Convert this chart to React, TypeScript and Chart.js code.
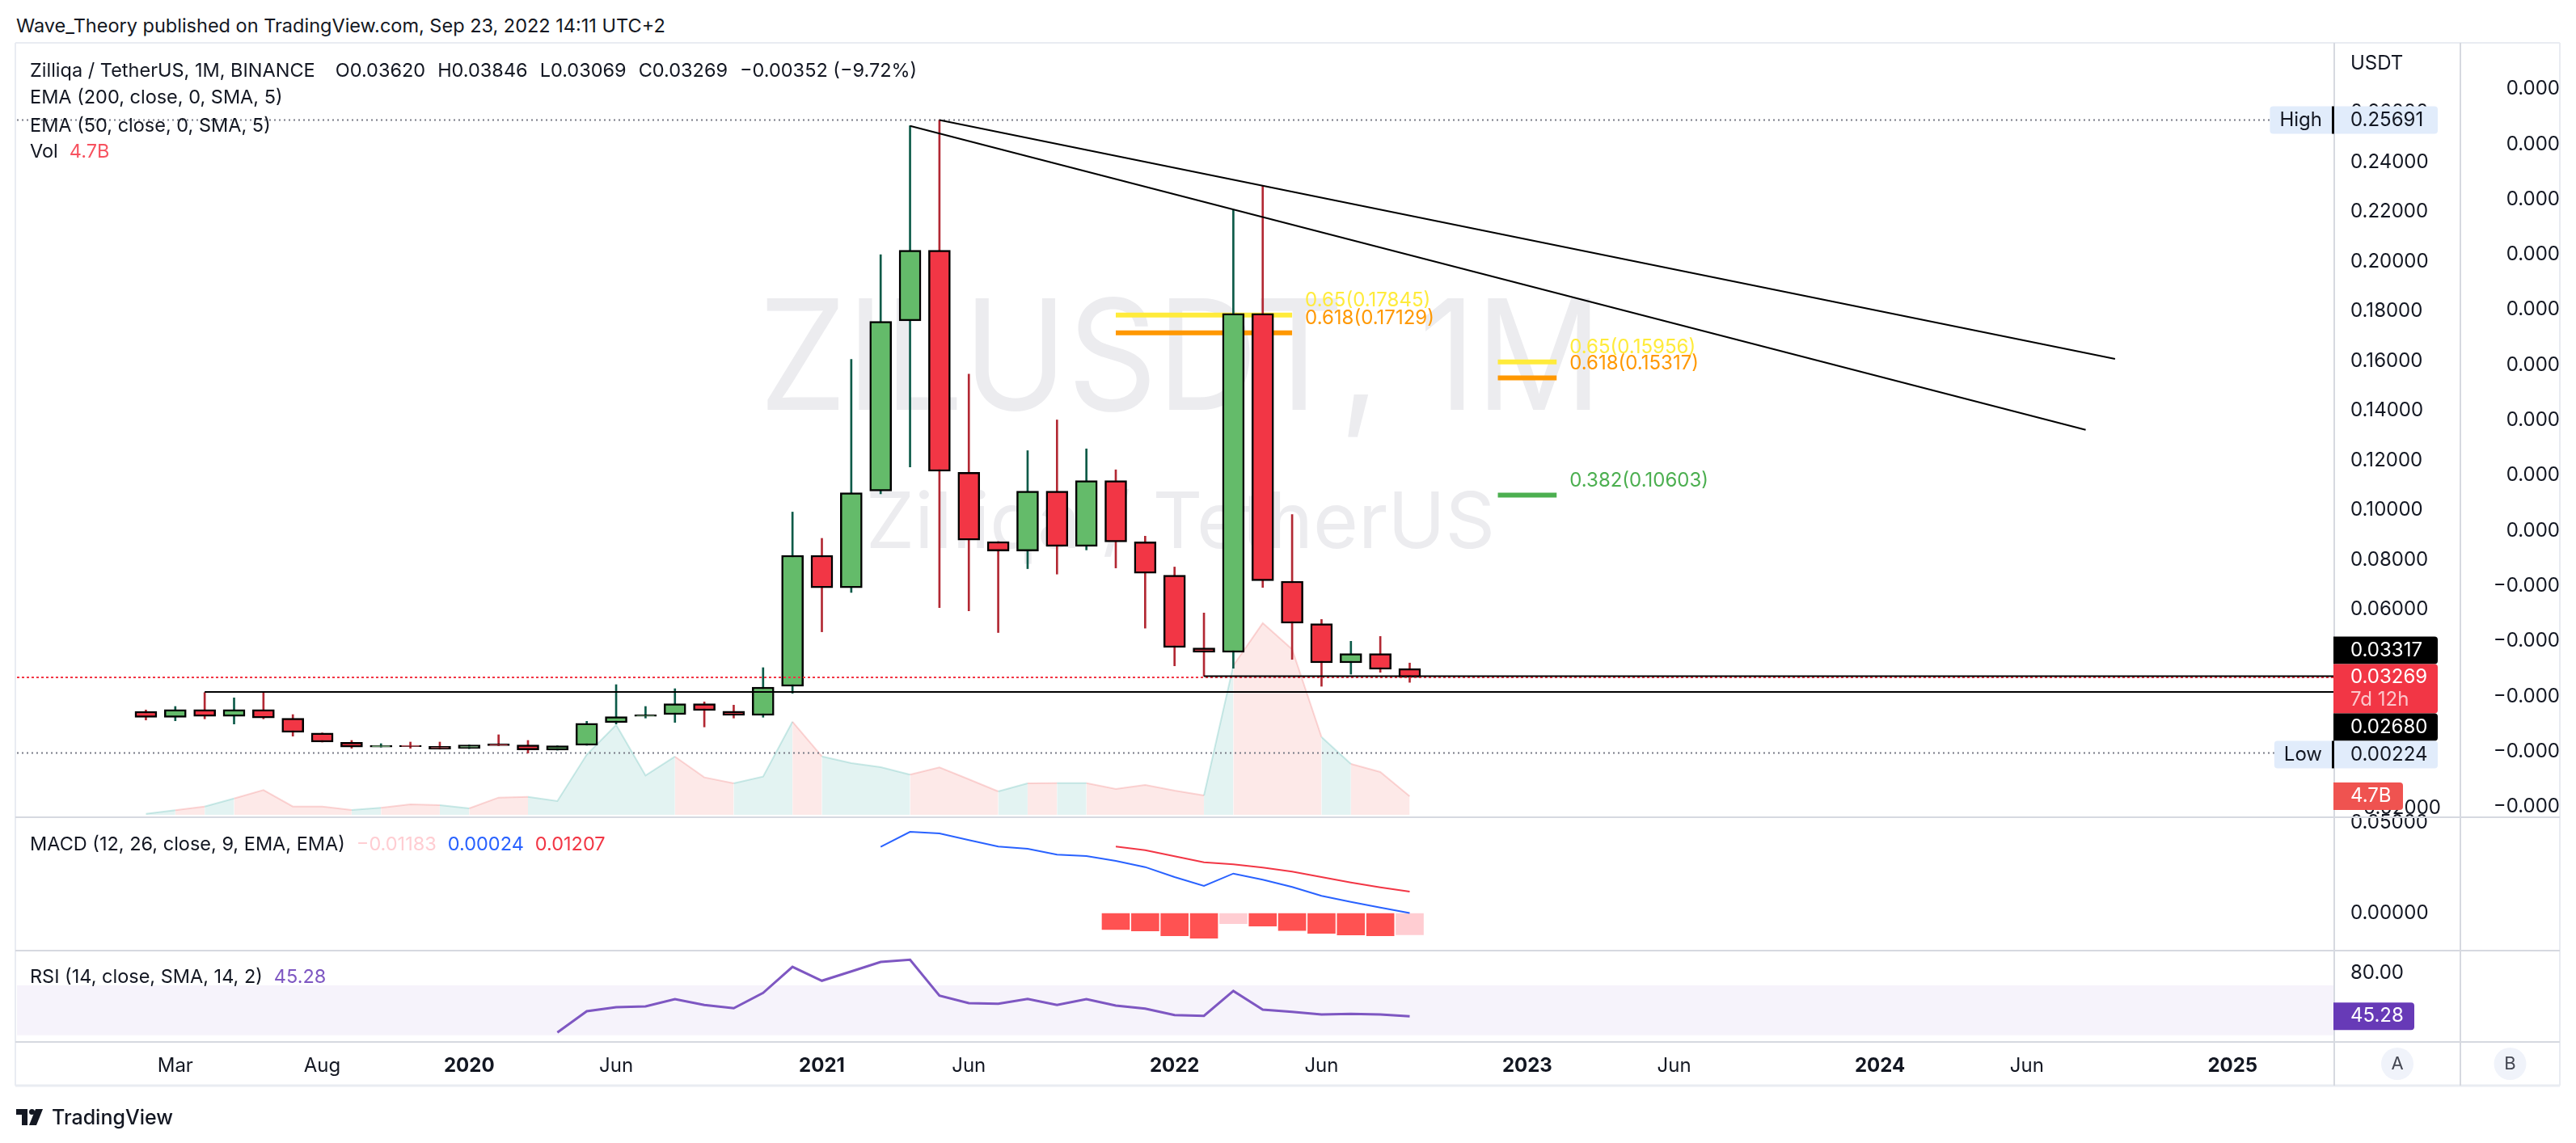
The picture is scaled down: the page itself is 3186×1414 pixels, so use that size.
import React, { useEffect, useRef } from 'react';
import { Chart, registerables } from 'chart.js';

Chart.register(...registerables);

const FONT = "Inter, 'Noto Sans', 'DejaVu Sans', sans-serif";
const INK = '#131722';

// ---------------- data: monthly candles, index 0 = Feb 2019 ----------------
const FIRST_MONTH = 'Feb 2019';
const OPEN = [0.01902, 0.01665, 0.01977, 0.01698, 0.01977, 0.0162, 0.01034, 0.00657, 0.00462, 0.00537, 0.00494, 0.00407, 0.00592, 0.00547, 0.00341, 0.00537, 0.01447, 0.01698, 0.01772, 0.02205, 0.01912, 0.0174, 0.0291, 0.0818, 0.06875, 0.10764, 0.17616, 0.20449, 0.11519, 0.08732, 0.08354, 0.10764, 0.08543, 0.11184, 0.08719, 0.07382, 0.04449, 0.04276, 0.17906, 0.07138, 0.05425, 0.03854, 0.04221, 0.0362];
const HIGH = [0.01958, 0.02098, 0.0266, 0.02445, 0.0266, 0.01772, 0.01034, 0.00732, 0.00602, 0.00667, 0.00667, 0.0055, 0.0096, 0.00732, 0.00514, 0.01502, 0.02976, 0.02098, 0.02813, 0.02283, 0.02153, 0.03659, 0.0992, 0.08862, 0.16062, 0.20272, 0.25457, 0.25691, 0.15467, 0.08732, 0.1239, 0.13626, 0.12462, 0.1162, 0.0895, 0.07709, 0.0586, 0.22088, 0.2306, 0.0982, 0.056, 0.04722, 0.04917, 0.03846];
const LOW = [0.01554, 0.01522, 0.016, 0.01392, 0.016, 0.00904, 0.00667, 0.00416, 0.00462, 0.00416, 0.0038, 0.004, 0.0052, 0.00224, 0.00341, 0.00537, 0.01392, 0.01633, 0.01457, 0.01275, 0.01633, 0.01665, 0.0263, 0.05102, 0.06683, 0.1065, 0.11737, 0.06075, 0.05945, 0.05073, 0.07642, 0.07424, 0.08397, 0.07671, 0.05249, 0.03733, 0.03317, 0.03636, 0.06888, 0.03993, 0.02911, 0.03398, 0.03473, 0.03069];
const CLOSE = [0.01665, 0.01977, 0.01698, 0.01977, 0.01633, 0.01057, 0.00667, 0.00462, 0.00537, 0.00481, 0.00384, 0.00547, 0.00527, 0.00352, 0.00514, 0.01424, 0.01685, 0.01763, 0.02205, 0.01935, 0.0174, 0.02878, 0.0818, 0.06875, 0.10693, 0.17587, 0.20449, 0.11561, 0.0879, 0.08354, 0.10764, 0.08543, 0.11184, 0.08719, 0.07454, 0.04472, 0.04276, 0.17906, 0.07161, 0.05447, 0.03854, 0.04221, 0.03593, 0.03269];
const VOLUME_B = [0.27, 1.16, 2.1, 4.14, 6.27, 2.1, 2.1, 1.22, 1.78, 2.65, 2.45, 1.63, 4.35, 4.55, 3.47, 15.2, 22.7, 9.94, 14.7, 9.45, 7.96, 9.65, 23.5, 14.76, 13.06, 12.04, 10.14, 11.98, 8.98, 5.92, 7.96, 8.02, 8.02, 6.53, 7.55, 6.1, 4.9, 37.7, 48.4, 41.8, 19.65, 12.86, 10.82, 4.7];

const MACD_START = 25; // Mar 2021
const MACD_LINE = [0.03674, 0.04509, 0.0442, 0.04049, 0.03692, 0.03571, 0.03246, 0.0317, 0.02902, 0.0256, 0.02009, 0.01518, 0.02201, 0.01862, 0.0146, 0.00969, 0.00638, 0.00326, 0.00024];
const SIGNAL_START = 33; // Nov 2021
const SIGNAL_LINE = [0.03692, 0.03496, 0.03155, 0.02827, 0.02708, 0.0253, 0.02307, 0.02009, 0.01711, 0.01443, 0.01207];
const HISTOGRAM = [-0.0089, -0.0097, -0.0124, -0.0137, -0.0057, -0.007, -0.0094, -0.011, -0.0119, -0.0124, -0.01183];

const RSI_START = 14; // Apr 2020
const RSI = [32.2, 49.3, 52.5, 53.2, 59.0, 54.3, 51.7, 64.0, 84.9, 73.7, 81.2, 88.8, 90.6, 61.8, 55.7, 55.3, 59.2, 54.3, 59.0, 53.8, 51.4, 46.2, 45.6, 65.5, 50.6, 48.8, 46.7, 47.1, 46.7, 45.28];
const RSI_BAND = [30, 70];

const X_TICKS = [1, 6, 11, 16, 23, 28, 35, 40, 47, 52, 59, 64, 71];
const X_TICK_LABELS = ['Mar', 'Aug', '2020', 'Jun', '2021', 'Jun', '2022', 'Jun', '2023', 'Jun', '2024', 'Jun', '2025'];
const PRICE_TICKS = [0.26, 0.24, 0.22, 0.2, 0.18, 0.16, 0.14, 0.12, 0.1, 0.08, 0.06, -0.02];
const MACD_TICKS = [0.05, 0];
const RSI_TICKS = [80];
const AUX_TICKS = [0.0008, 0.0007, 0.0006, 0.0005, 0.0004, 0.0003, 0.0002, 0.0001, 0, -0.0001, -0.0002, -0.0003, -0.0004, -0.0005];

const TREND_FROM = [27, 26];
const TREND_FROM_PRICE = [0.25691, 0.25457];
const TREND_TO = [67, 66];
const TREND_TO_PRICE = [0.16081, 0.1323];

const LEVEL_START = [36, 2];
const LEVEL_PRICE = [0.03317, 0.0268];

const FIB_RANGES = [[33, 39], [46, 48]];
const FIB_RATIOS = [['0.65', '0.618'], ['0.65', '0.618', '0.382']];
const FIB_PRICES = [[0.17845, 0.17129], [0.15956, 0.15317, 0.10603]];

const SYMBOL_TITLE = 'Zilliqa / TetherUS, 1M, BINANCE';
const CHANGE_TEXT = '−0.00352 (−9.72%)';
const EMA_LABELS = ['EMA (200, close, 0, SMA, 5)', 'EMA (50, close, 0, SMA, 5)'];
const MACD_LABEL = 'MACD (12, 26, close, 9, EMA, EMA)';
const RSI_LABEL = 'RSI (14, close, SMA, 14, 2)';
const WATERMARK = ['ZILUSDT, 1M', 'Zilliqa / TetherUS'];
const COUNTDOWN = '7d 12h';

// ---------------- view ranges (match the pane layout) ----------------
const X_MIN = -4.3865;
const X_MAX = 74.458;
const PRICE_MIN = -0.023577;
const PRICE_MAX = 0.287642;
const MACD_MIN = -0.020536;
const MACD_MAX = 0.053125;
const RSI_MIN = 24.62;
const RSI_MAX = 97.88;
const VOL_MIN = -57.35;
const VOL_MAX = 194.69;
const AUX_MIN = -0.00092617;
const AUX_MAX = 0.00088199;

// ---------------- styles ----------------
const GREEN = '#64BB6A';
const RED = '#F23645';
const WICK_G = '#0B5A48';
const WICK_R = '#B22833';
const FIB_COLOR: Record<string, string> = { '0.65': '#FFEB3B', '0.618': '#FF9800', '0.382': '#4CAF50' };
const SEP = '#D6D9E0';
const FRAME = '#E9ECF2';
const TAG_BLUE = '#E1ECFB';
const LEGEND_PX = 23.5;

const LAST = CLOSE.length - 1;
const isUp = (i: number) => CLOSE[i] >= OPEN[i];
const fmt5 = (v: number) => (v < -1e-12 ? '−' : '') + Math.abs(v).toFixed(5);
const series = (arr: number[], start: number) => arr.map((v, i) => ({ x: start + i, y: v }));

function lineDs(data: any[], color: string, width: number, axis: string, order: number, dash: number[] = []) {
  return {
    type: 'line', data, yAxisID: axis, borderColor: color, borderWidth: width, borderDash: dash,
    pointRadius: 0, tension: 0, fill: false, order, borderCapStyle: 'butt',
  };
}

function fixedTicks(values: number[]) {
  return (scale: any) => { scale.ticks = values.map((v) => ({ value: v })); };
}

const tickFont = { family: FONT, size: 24 };
const hiddenGrid = { display: false, drawTicks: false };

function yAxis(extra: any) {
  return {
    type: 'linear', position: 'right', bounds: 'data', grid: hiddenGrid, border: { display: false },
    ticks: { padding: 20, color: INK, font: tickFont, autoSkip: false },
    ...extra,
  };
}

const overlayPlugin = {
  id: 'tvOverlay',
  beforeDatasetsDraw(chart: any) {
    const { ctx, chartArea: ca, scales } = chart;
    ctx.save();
    ctx.fillStyle = '#ECECEF';
    ctx.textAlign = 'center';
    ctx.textBaseline = 'alphabetic';
    const cx = (ca.left + ca.right) / 2 + 6;
    ctx.save();
    ctx.translate(cx, 507);
    ctx.scale(0.91, 1);
    ctx.font = `190px ${FONT}`;
    ctx.fillText(WATERMARK[0], 0, 0);
    ctx.restore();
    ctx.font = `96px ${FONT}`;
    ctx.fillText(WATERMARK[1], cx, 678);
    const r = scales.yRsi;
    const yTop = r.getPixelForValue(RSI_BAND[1]);
    const yBot = r.getPixelForValue(RSI_BAND[0]);
    ctx.fillStyle = 'rgba(126,87,194,0.07)';
    ctx.fillRect(ca.left, yTop, ca.right - ca.left, yBot - yTop);
    ctx.restore();
  },
  afterDraw(chart: any) {
    const { ctx, chartArea: ca, scales: s } = chart;
    const L = ca.left;
    const R = ca.right;
    const C2 = s.y2.left;
    const RE = s.y2.right;
    const B = s.x.bottom;
    const T = ca.top - 1;
    ctx.save();
    const seg = (x1: number, y1: number, x2: number, y2: number, color: string, w: number) => {
      ctx.strokeStyle = color; ctx.lineWidth = w;
      ctx.beginPath(); ctx.moveTo(x1, y1); ctx.lineTo(x2, y2); ctx.stroke();
    };
    // frame + separators
    seg(L - 2, T, RE, T, FRAME, 2);
    seg(L - 2, T, L - 2, B, FRAME, 2);
    seg(RE, T, RE, B, FRAME, 2);
    seg(L - 2, B, RE, B, FRAME, 3);
    seg(L - 2, s.y.bottom, RE, s.y.bottom, SEP, 2);
    seg(L - 2, s.yMacd.bottom, RE, s.yMacd.bottom, SEP, 2);
    seg(L - 2, s.yRsi.bottom, RE, s.yRsi.bottom, SEP, 2);
    seg(R, T, R, B, SEP, 2);
    seg(C2, T, C2, B, SEP, 2);

    // legends
    ctx.textAlign = 'left';
    ctx.textBaseline = 'middle';
    ctx.font = `${LEGEND_PX}px ${FONT}`;
    const run = (x: number, y: number, parts: [string, string, number][]) => {
      for (const [text, color, gap] of parts) {
        ctx.fillStyle = color;
        ctx.fillText(text, x, y);
        x += ctx.measureText(text).width + gap;
      }
    };
    const lx = L + 16;
    run(lx, 88, [
      [SYMBOL_TITLE, INK, 25],
      ['O' + OPEN[LAST].toFixed(5), INK, 15],
      ['H' + HIGH[LAST].toFixed(5), INK, 15],
      ['L' + LOW[LAST].toFixed(5), INK, 15],
      ['C' + CLOSE[LAST].toFixed(5), INK, 15],
      [CHANGE_TEXT, INK, 0],
    ]);
    run(lx, 121, [[EMA_LABELS[0], INK, 0]]);
    run(lx, 156, [[EMA_LABELS[1], INK, 0]]);
    run(lx, 188, [['Vol', INK, 14], [VOLUME_B[LAST].toFixed(1) + 'B', '#F7525F', 0]]);
    run(lx, 1045, [
      [MACD_LABEL, INK, 14],
      [fmt5(HISTOGRAM[HISTOGRAM.length - 1]), '#FFCDD2', 14],
      [fmt5(MACD_LINE[MACD_LINE.length - 1]), '#2962FF', 14],
      [fmt5(SIGNAL_LINE[SIGNAL_LINE.length - 1]), '#F23645', 0],
    ]);
    run(lx, 1209, [[RSI_LABEL, INK, 14], [RSI[RSI.length - 1].toFixed(2), '#7E57C2', 0]]);

    // fib labels
    ctx.font = `24px ${FONT}`;
    FIB_RANGES.forEach((rng, si) => {
      const xEnd = s.x.getPixelForValue(rng[1]);
      FIB_RATIOS[si].forEach((ratio, li) => {
        const p = FIB_PRICES[si][li];
        ctx.fillStyle = FIB_COLOR[ratio];
        ctx.fillText(`${ratio}(${p.toFixed(5)})`, xEnd + 16, s.y.getPixelForValue(p) - 18);
      });
    });

    // price-axis tags
    const TH = 34;
    const VW = 129;
    const TX = R + 20;
    const tag = (x: number, y: number, w: number, h: number, fill: string, radii: number[]) => {
      ctx.fillStyle = fill;
      ctx.beginPath();
      ctx.roundRect(x, y, w, h, radii);
      ctx.fill();
    };
    const text = (t: string, x: number, y: number, color: string) => {
      ctx.fillStyle = color; ctx.fillText(t, x, y);
    };
    const extremeTag = (label: string, value: number, top: number) => {
      const w = ctx.measureText(label).width + 24;
      tag(R - 3 - w, top, w, TH, TAG_BLUE, [4, 0, 0, 4]);
      ctx.fillStyle = '#000';
      ctx.fillRect(R - 3, top, 3, TH);
      tag(R, top, VW - 1, TH, TAG_BLUE, [0, 4, 4, 0]);
      text(label, R - 3 - w + 12, top + TH / 2, INK);
      text(value.toFixed(5), TX, top + TH / 2, INK);
    };
    const hi = Math.max(...HIGH);
    const lo = Math.min(...LOW);
    extremeTag('High', hi, s.y.getPixelForValue(hi) - TH / 2);

    const yLast = s.y.getPixelForValue(CLOSE[LAST]);
    const redTop = yLast - 16.5;
    const redH = 61;
    tag(R - 1, redTop - TH, VW, TH, '#000', [0, 4, 4, 0]);
    text(LEVEL_PRICE[0].toFixed(5), TX, redTop - TH / 2, '#fff');
    tag(R - 1, redTop, VW, redH, RED, [0, 4, 4, 0]);
    text(CLOSE[LAST].toFixed(5), TX, redTop + 16.5, '#fff');
    text(COUNTDOWN, TX, redTop + 44.5, 'rgba(255,255,255,0.72)');
    tag(R - 1, redTop + redH, VW, TH, '#000', [0, 4, 4, 0]);
    text(LEVEL_PRICE[1].toFixed(5), TX, redTop + redH + TH / 2, '#fff');
    const loTop = Math.max(s.y.getPixelForValue(lo) - TH / 2, redTop + redH + TH);
    extremeTag('Low', lo, loTop);

    const yV = s.yVol.getPixelForValue(VOLUME_B[LAST]);
    tag(R - 1, yV - TH / 2, 86, TH, '#EF5350', [0, 4, 4, 0]);
    text(VOLUME_B[LAST].toFixed(1) + 'B', TX, yV, '#fff');

    const yR = s.yRsi.getPixelForValue(RSI[RSI.length - 1]);
    tag(R - 1, yR - TH / 2, 100, TH, '#673AB7', [0, 4, 4, 0]);
    text(RSI[RSI.length - 1].toFixed(2), TX, yR, '#fff');

    text('USDT', TX, 79, INK);

    // A / B buttons
    const cy = (s.x.top + s.x.bottom) / 2;
    [[(R + C2) / 2, 'A'], [(C2 + RE) / 2, 'B']].forEach(([x, t]: any) => {
      ctx.fillStyle = '#F0F3FA';
      ctx.beginPath(); ctx.arc(x, cy, 20, 0, Math.PI * 2); ctx.fill();
      ctx.textAlign = 'center';
      ctx.font = `22px ${FONT}`;
      text(t, x, cy, '#434651');
    });
    ctx.restore();
  },
};

function buildConfig(): any {
  const datasets: any[] = [];
  // volume area
  datasets.push({
    type: 'line', yAxisID: 'yVol', data: series(VOLUME_B, 0), fill: 'origin', pointRadius: 0, tension: 0,
    borderWidth: 2, borderColor: 'rgba(239,83,80,0.22)', backgroundColor: 'rgba(239,83,80,0.13)', order: 20,
    segment: {
      backgroundColor: (c: any) => (isUp(c.p1DataIndex) ? 'rgba(38,166,154,0.13)' : 'rgba(239,83,80,0.13)'),
      borderColor: (c: any) => (isUp(c.p1DataIndex) ? 'rgba(38,166,154,0.22)' : 'rgba(239,83,80,0.22)'),
    },
  });
  // dotted high / low / last lines
  const hi = Math.max(...HIGH);
  const lo = Math.min(...LOW);
  datasets.push(lineDs([{ x: X_MIN, y: hi }, { x: X_MAX, y: hi }], '#787B86', 2, 'y', 15, [2, 4]));
  datasets.push(lineDs([{ x: X_MIN, y: lo }, { x: X_MAX, y: lo }], '#787B86', 2, 'y', 15, [2, 4]));
  // fib levels (behind candles)
  FIB_RANGES.forEach((rng, si) => {
    FIB_RATIOS[si].forEach((ratio, li) => {
      const p = FIB_PRICES[si][li];
      datasets.push(lineDs([{ x: rng[0], y: p }, { x: rng[1], y: p }], FIB_COLOR[ratio], 6, 'y', 12));
    });
  });
  // wicks
  datasets.push({
    type: 'bar', yAxisID: 'y', grouped: false, barThickness: 2, order: 8,
    data: HIGH.map((h, i) => ({ x: i, y: [LOW[i], h] })),
    backgroundColor: HIGH.map((_, i) => (isUp(i) ? WICK_G : WICK_R)),
  });
  // bodies
  datasets.push({
    type: 'bar', yAxisID: 'y', grouped: false, barThickness: 27, order: 7,
    data: OPEN.map((o, i) => ({ x: i, y: [Math.min(o, CLOSE[i]), Math.max(o, CLOSE[i])] })),
    backgroundColor: OPEN.map((_, i) => (isUp(i) ? GREEN : RED)),
    borderColor: '#000', borderWidth: 2.5, borderSkipped: false,
  });
  // last price dotted line
  datasets.push(lineDs([{ x: X_MIN, y: CLOSE[LAST] }, { x: X_MAX, y: CLOSE[LAST] }], RED, 2, 'y', 2, [3, 3]));
  // horizontal levels
  LEVEL_PRICE.forEach((p, i) => {
    datasets.push(lineDs([{ x: LEVEL_START[i], y: p }, { x: X_MAX, y: p }], '#000', 2, 'y', 1));
  });
  // trendlines
  TREND_FROM.forEach((f, i) => {
    datasets.push(lineDs([{ x: f, y: TREND_FROM_PRICE[i] }, { x: TREND_TO[i], y: TREND_TO_PRICE[i] }], '#000', 2, 'y', 1));
  });
  // MACD
  datasets.push({
    type: 'bar', yAxisID: 'yMacd', grouped: false, barThickness: 34, order: 5,
    data: series(HISTOGRAM, SIGNAL_START),
    backgroundColor: HISTOGRAM.map((v, i) => {
      const rising = i > 0 && v > HISTOGRAM[i - 1];
      if (v < 0) return rising ? '#FFCDD2' : '#FF5252';
      return rising ? '#26A69A' : '#B2DFDB';
    }),
  });
  datasets.push(lineDs(series(MACD_LINE, MACD_START), '#2962FF', 2, 'yMacd', 3));
  datasets.push(lineDs(series(SIGNAL_LINE, SIGNAL_START), '#F23645', 2, 'yMacd', 3));
  // RSI
  datasets.push(lineDs(series(RSI, RSI_START), '#7E57C2', 3, 'yRsi', 3));

  return {
    type: 'line',
    data: { datasets },
    plugins: [overlayPlugin],
    options: {
      responsive: false,
      maintainAspectRatio: false,
      devicePixelRatio: 1,
      animation: false,
      events: [],
      layout: { padding: { left: 21, top: 54, right: 20, bottom: 71 } },
      plugins: { legend: { display: false }, tooltip: { enabled: false } },
      scales: {
        x: {
          type: 'linear', position: 'bottom', min: X_MIN, max: X_MAX, bounds: 'data', offset: false,
          grid: hiddenGrid, border: { display: false },
          ticks: {
            autoSkip: false, maxRotation: 0, minRotation: 0, padding: 15, color: INK,
            font: (c: any) => ({ family: FONT, size: 24, weight: /^\d{4}$/.test(X_TICK_LABELS[c.index] || '') ? 'bold' : 'normal' }),
            callback: (v: number) => X_TICK_LABELS[X_TICKS.indexOf(v)] ?? '',
          },
          afterBuildTicks: fixedTicks(X_TICKS),
          afterFit: (sc: any) => { sc.height = 54; },
        },
        y: yAxis({
          stack: 'panes', stackWeight: 957, min: PRICE_MIN, max: PRICE_MAX,
          ticks: { padding: 20, color: INK, font: tickFont, autoSkip: false, callback: (v: number) => fmt5(v) },
          afterBuildTicks: fixedTicks(PRICE_TICKS),
          afterFit: (sc: any) => { sc.width = 156; },
        }),
        yMacd: yAxis({
          stack: 'panes', stackWeight: 165, min: MACD_MIN, max: MACD_MAX,
          ticks: { padding: 20, color: INK, font: tickFont, autoSkip: false, callback: (v: number) => fmt5(v) },
          afterBuildTicks: fixedTicks(MACD_TICKS),
          afterFit: (sc: any) => { sc.width = 156; },
        }),
        yRsi: yAxis({
          stack: 'panes', stackWeight: 113, min: RSI_MIN, max: RSI_MAX,
          ticks: { padding: 20, color: INK, font: tickFont, autoSkip: false, callback: (v: number) => v.toFixed(2) },
          afterBuildTicks: fixedTicks(RSI_TICKS),
          afterFit: (sc: any) => { sc.width = 156; },
        }),
        y2: yAxis({
          weight: 1, min: AUX_MIN, max: AUX_MAX,
          ticks: { padding: 20, crossAlign: 'far', color: INK, font: tickFont, autoSkip: false, callback: (v: number) => (v < -1e-9 ? '−0.000' : '0.000') },
          afterBuildTicks: fixedTicks(AUX_TICKS),
          afterFit: (sc: any) => { sc.width = 123; },
        }),
        yVol: { type: 'linear', position: 'right', weight: 2, display: false, min: VOL_MIN, max: VOL_MAX, bounds: 'data' },
      },
    },
  };
}

function TVLogo() {
  return (
    <svg width="36" height="24" viewBox="0 0 36 24" style={{ display: 'block' }}>
      <rect x="0" y="2" width="14" height="7" fill={INK} />
      <rect x="7" y="2" width="7" height="20" fill={INK} />
      <circle cx="19.5" cy="5.5" r="3.5" fill={INK} />
      <polygon points="16,22 24,2 33,2 25,22" fill={INK} />
    </svg>
  );
}

export default function App() {
  const ref = useRef<HTMLCanvasElement>(null);
  useEffect(() => {
    const chart = new Chart(ref.current as HTMLCanvasElement, buildConfig());
    return () => chart.destroy();
  }, []);
  return (
    <div style={{ position: 'fixed', left: 0, top: 0, width: 3186, height: 1414, background: '#fff', overflow: 'hidden', fontFamily: FONT, color: INK }}>
      <div style={{ position: 'absolute', left: 20, top: 18, fontSize: 23.5, lineHeight: '28px', whiteSpace: 'nowrap' }}>
        Wave_Theory published on TradingView.com, Sep 23, 2022 14:11 UTC+2
      </div>
      <canvas ref={ref} width={3186} height={1414} style={{ position: 'absolute', left: 0, top: 0, width: 3186, height: 1414 }} />
      <div style={{ position: 'absolute', left: 20, top: 1369, display: 'flex', alignItems: 'center', gap: 8 }}>
        <TVLogo />
        <span style={{ fontSize: 25, fontWeight: 500, lineHeight: '26px' }}>TradingView</span>
      </div>
    </div>
  );
}
